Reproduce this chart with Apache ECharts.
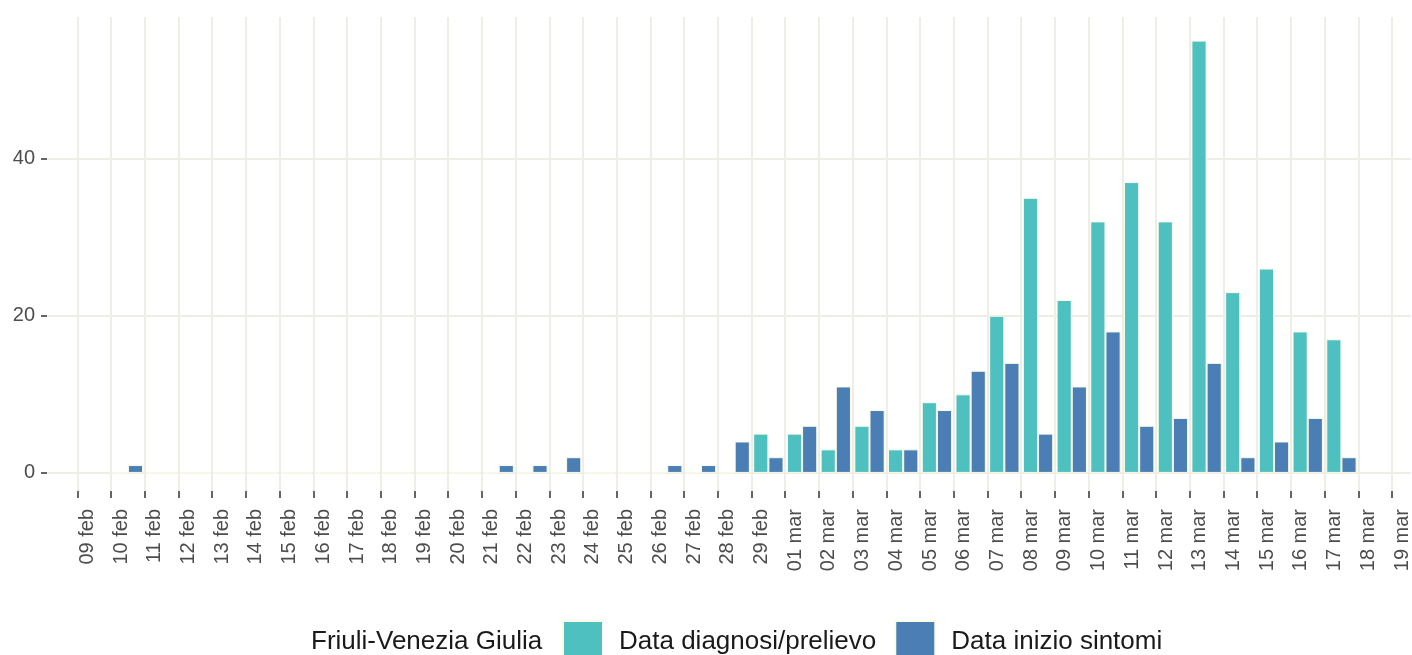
<!DOCTYPE html>
<html>
<head>
<meta charset="utf-8">
<script src="https://cdn.jsdelivr.net/npm/echarts@6/dist/echarts.min.js"></script>
<style>
  html, body { margin: 0; padding: 0; background: #fff; }
  #chart { width: 1412px; height: 655px; }
</style>
</head>
<body>
<div id="chart"></div>
<script>
// etichette dei giorni (tick)
var giorni = ['09 feb', '10 feb', '11 feb', '12 feb', '13 feb', '14 feb', '15 feb', '16 feb', '17 feb', '18 feb',
  '19 feb', '20 feb', '21 feb', '22 feb', '23 feb', '24 feb', '25 feb', '26 feb', '27 feb', '28 feb', '29 feb',
  '01 mar', '02 mar', '03 mar', '04 mar', '05 mar', '06 mar', '07 mar', '08 mar', '09 mar', '10 mar',
  '11 mar', '12 mar', '13 mar', '14 mar', '15 mar', '16 mar', '17 mar', '18 mar', '19 mar'];

// un valore per ogni giorno (dal 09 feb al 18 mar)
var diagnosi = [null, 0, 0, 0, 0, 0, 0, 0, 0, 0, 0, 0, 0, 0, 0, 0, 0, 0, 0, 0,
  5, 5, 3, 6, 3, 9, 10, 20, 35, 22, 32, 37, 32, 55, 23, 26, 18, 17, null];
var sintomi = [null, 1, 0, 0, 0, 0, 0, 0, 0, 0, 0, 0, 1, 1, 2, 0, 0, 1, 1, 4,
  2, 6, 11, 8, 3, 8, 13, 14, 5, 11, 18, 6, 7, 14, 2, 4, 7, 2, null];

var yTicks = [0, 20, 40];
var regione = 'Friuli-Venezia Giulia';
var nomi = ['Data diagnosi/prelievo', 'Data inizio sintomi'];

var font = 'Liberation Sans, Arial, sans-serif';

function toPoints(arr) {
  return arr.map(function (v, i) { return [i + 0.5, v]; });
}
var tickIdx = giorni.map(function (g, i) { return i; });

var myChart = echarts.init(document.getElementById('chart'));
var option = {
  backgroundColor: '#fff',
  animation: false,
  title: {
    text: regione,
    left: 311,
    top: 628,
    padding: 0,
    textStyle: { fontFamily: font, fontSize: 26, fontWeight: 'normal', color: '#1a1a1a', lineHeight: 28 }
  },
  legend: {
    data: nomi,
    left: 562,
    top: 620,
    padding: 0,
    itemWidth: 40,
    itemHeight: 42,
    itemGap: 18,
    icon: 'rect',
    textStyle: { fontFamily: font, fontSize: 26, color: '#1a1a1a', padding: [0, 0, 0, 11] }
  },
  grid: { left: 47, right: 0, top: 17, bottom: 164 },
  xAxis: {
    type: 'value',
    min: -0.9,
    max: 39.56,
    axisLine: { show: false, onZero: false },
    axisTick: { show: true, length: 7, customValues: tickIdx, lineStyle: { color: '#333', width: 1.5 } },
    axisLabel: {
      customValues: tickIdx,
      rotate: 90,
      margin: 18,
      verticalAlign: 'top',
      fontFamily: font,
      fontSize: 20,
      color: '#4d4d4d',
      formatter: function (v) { return giorni[Math.round(v)] || ''; }
    },
    splitLine: { show: true, lineStyle: { color: '#eeede6', width: 2 } }
  },
  yAxis: {
    type: 'value',
    min: -2.3,
    max: 58,
    axisLine: { show: false, onZero: false },
    axisTick: { show: true, length: 6, customValues: yTicks, lineStyle: { color: '#333', width: 1.5 } },
    axisLabel: {
      customValues: yTicks,
      margin: 12,
      fontFamily: font,
      fontSize: 20,
      color: '#4d4d4d'
    },
    splitLine: { show: true, lineStyle: { color: '#eeede6', width: 2 } }
  },
  series: [{
    name: nomi[0],
    type: 'bar',
    barGap: '0%',
    barCategoryGap: '10%',
    itemStyle: { color: '#4fc0c0', borderColor: '#fbfbe8', borderWidth: 1 },
    data: toPoints(diagnosi)
  }, {
    name: nomi[1],
    type: 'bar',
    barGap: '0%',
    barCategoryGap: '10%',
    itemStyle: { color: '#4a7eb4', borderColor: '#fbfbe8', borderWidth: 1 },
    data: toPoints(sintomi)
  }]
};
myChart.setOption(option);
</script>
</body>
</html>
